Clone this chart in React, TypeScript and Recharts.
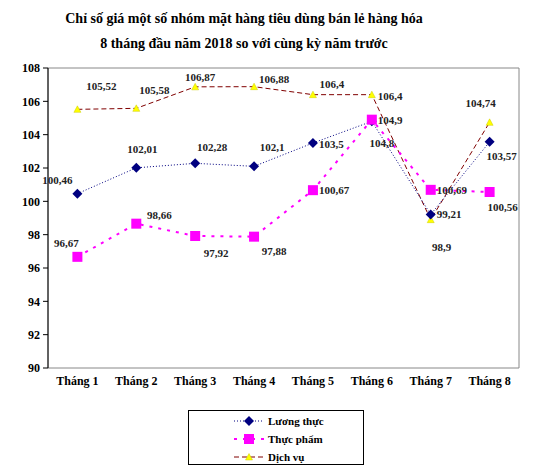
import React from "react";
import {
  LabelList,
  Legend,
  Line,
  LineChart,
  ReferenceArea,
  XAxis,
  YAxis,
} from "recharts";

const MONTHS = ["Tháng 1", "Tháng 2", "Tháng 3", "Tháng 4", "Tháng 5", "Tháng 6", "Tháng 7", "Tháng 8"];
const LUONG_THUC = [100.46, 102.01, 102.28, 102.1, 103.5, 104.8, 99.21, 103.57];
const THUC_PHAM = [96.67, 98.66, 97.92, 97.88, 100.67, 104.9, 100.69, 100.56];
const DICH_VU = [105.52, 105.58, 106.87, 106.88, 106.4, 106.4, 98.9, 104.74];
const Y_TICKS = [90, 92, 94, 96, 98, 100, 102, 104, 106, 108];
const BOUNDARY_TICKS = [0, 1, 2, 3, 4, 5, 6, 7, 8];
const TITLE = [
  "Chỉ số giá một số nhóm mặt hàng tiêu dùng bán lẻ hàng hóa",
  "8 tháng đầu năm 2018 so với cùng kỳ năm trước",
];

const FONT = '"Liberation Serif", "Times New Roman", serif';

// label placement per point: [dx, dy, anchor]
type Off = [number, number, "start" | "middle" | "end"];
const LT_LABELS: Off[] = [
  [-20, -14, "middle"], [6, -19, "middle"], [17, -16, "middle"], [18, -19, "middle"],
  [6, 1, "start"], [10, 22, "middle"], [6, 0, "start"], [12, 14, "middle"],
];
const TP_LABELS: Off[] = [
  [-11, -14, "middle"], [23, -9, "middle"], [21, 17, "middle"], [20, 14, "middle"],
  [6, 0, "start"], [6, 0, "start"], [6, 0, "start"], [13, 15, "middle"],
];
const DV_LABELS: Off[] = [
  [24, -23, "middle"], [18, -18, "middle"], [5, -10, "middle"], [20, -8, "middle"],
  [19, -11, "middle"], [6, 1, "start"], [11, 27, "middle"], [-9, -19, "middle"],
];

const data = MONTHS.map((m, i) => ({
  month: m,
  idx: i + 0.5,
  lt: LUONG_THUC[i],
  tp: THUC_PHAM[i],
  dv: DICH_VU[i],
}));

const fmt = (v: number) => String(v).replace(".", ",");

const makeLabel = (offs: Off[]) => (props: any) => {
  const { x, y, value, index } = props;
  if (x == null || y == null) return null;
  const [dx, dy, anchor] = offs[index];
  return (
    <text
      key={index}
      x={x + dx}
      y={y + dy}
      dy="0.35em"
      textAnchor={anchor}
      fontFamily={FONT}
      fontSize={11}
      fontWeight="bold"
      fill="#222"
    >
      {fmt(value)}
    </text>
  );
};

const diamond = (cx: number, cy: number, k?: any) => (
  <polygon
    key={k}
    points={`${cx},${cy - 5} ${cx + 5},${cy} ${cx},${cy + 5} ${cx - 5},${cy}`}
    fill="#000080"
  />
);
const square = (cx: number, cy: number, k?: any) => (
  <rect key={k} x={cx - 5} y={cy - 5} width={10} height={10} fill="#ff00ff" />
);
const triangle = (cx: number, cy: number, k?: any) => (
  <polygon
    key={k}
    points={`${cx},${cy - 3.5} ${cx + 3.5},${cy + 3} ${cx - 3.5},${cy + 3}`}
    fill="#ffff00"
    stroke="#cccc00"
    strokeWidth={0.5}
  />
);

const SERIES = [
  { key: "dv", name: "Dịch vụ", color: "#800000", width: 1, dash: "5 3", marker: triangle, labels: DV_LABELS },
  { key: "lt", name: "Lương thực", color: "#000080", width: 1, dash: "1 2", marker: diamond, labels: LT_LABELS },
  { key: "tp", name: "Thực phẩm", color: "#ff00ff", width: 2, dash: "3 6", marker: square, labels: TP_LABELS },
];
const LEGEND_ORDER = ["lt", "tp", "dv"];

const renderLegend = () => (
  <div
    style={{
      border: "1px solid #000",
      boxSizing: "border-box",
      width: 176,
      height: 55,
      paddingTop: 1,
      paddingLeft: 44,
      background: "#fff",
    }}
  >
    {LEGEND_ORDER.map((k) => {
      const s = SERIES.find((x) => x.key === k)!;
      return (
        <div key={k} style={{ display: "flex", alignItems: "center", height: 18 }}>
          <svg width={32} height={12} style={{ marginRight: 3 }}>
            <line x1={1} y1={6} x2={31} y2={6} stroke={s.color} strokeWidth={s.width} strokeDasharray={s.dash} />
            {s.marker(16, 6)}
          </svg>
          <span style={{ fontFamily: FONT, fontSize: 11, fontWeight: "bold", color: "#000" }}>{s.name}</span>
        </div>
      );
    })}
  </div>
);

export default function App() {
  return (
    <div style={{ position: "absolute", left: 0, top: 0, width: 548, height: 476, background: "#fff" }}>
      <div
        style={{
          position: "absolute",
          left: 0,
          top: 6,
          width: 488,
          textAlign: "center",
          fontFamily: FONT,
          fontWeight: "bold",
          fontSize: 14,
          lineHeight: "25px",
          color: "#000",
          zIndex: 2,
        }}
      >
        {TITLE.map((t) => (
          <div key={t}>{t}</div>
        ))}
      </div>
      <LineChart width={548} height={476} data={data} margin={{ top: 68, right: 29, left: 0, bottom: 78 }}>
        <XAxis
          xAxisId="b"
          dataKey="idx"
          type="number"
          domain={[0, 8]}
          ticks={BOUNDARY_TICKS}
          tick={false}
          height={0}
          tickSize={5}
          stroke="#000"
          axisLine={{ stroke: "#000" }}
          tickLine={{ stroke: "#000" }}
        />
        <XAxis
          dataKey="month"
          height={30}
          axisLine={false}
          tickLine={false}
          interval={0}
          padding={{ left: 29.4, right: 29.4 }}
          tick={{ fontFamily: FONT, fontSize: 12, fontWeight: "bold", fill: "#000" }}
        />
        <YAxis
          width={48}
          domain={[90, 108]}
          ticks={Y_TICKS}
          interval={0}
          tickSize={5}
          tickMargin={3}
          axisLine={{ stroke: "#000" }}
          tickLine={{ stroke: "#000" }}
          tick={{ fontFamily: FONT, fontSize: 12, fontWeight: "bold", fill: "#000" }}
        />
        <ReferenceArea
          xAxisId="b"
          x1={0}
          x2={8}
          y1={90}
          y2={108}
          fill="none"
          stroke="#888"
          strokeWidth={1}
          ifOverflow="extendDomain"
        />
        {SERIES.map((s) => (
          <Line
            key={s.key}
            dataKey={s.key}
            name={s.name}
            stroke={s.color}
            strokeWidth={s.width}
            strokeDasharray={s.dash}
            isAnimationActive={false}
            dot={(p: any) => (p.cx == null ? <g key={p.index} /> : s.marker(p.cx, p.cy, p.index))}
            activeDot={false}
          >
            <LabelList dataKey={s.key} content={makeLabel(s.labels)} />
          </Line>
        ))}
        <Legend
          layout="vertical"
          align="center"
          verticalAlign="middle"
          content={renderLegend}
          wrapperStyle={{ left: 188, top: 410, width: 176, height: 55 }}
        />
      </LineChart>
    </div>
  );
}
